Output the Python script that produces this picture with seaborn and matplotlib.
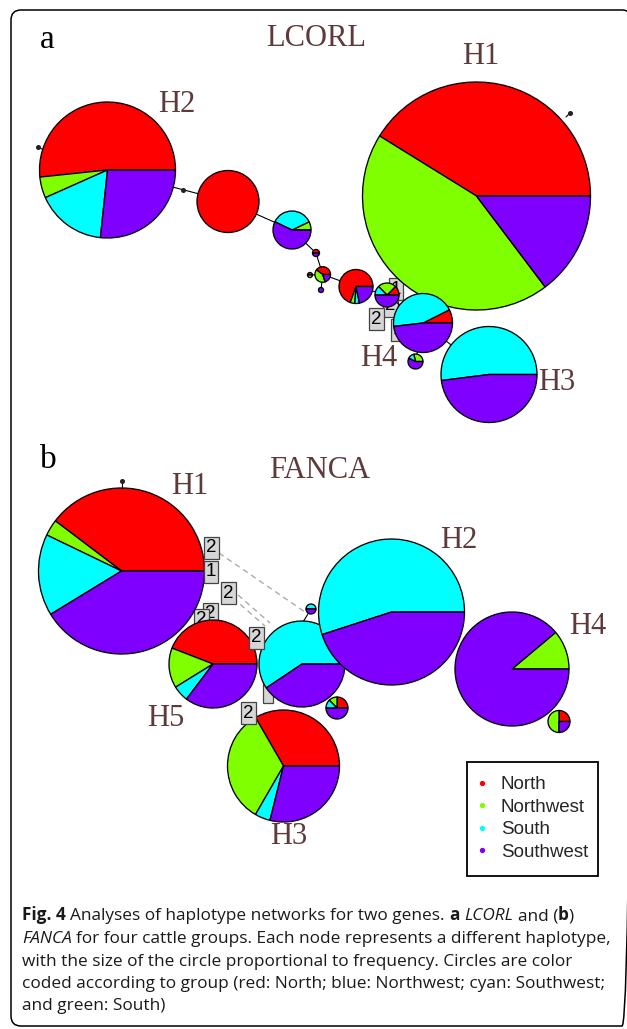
import numpy as np
import pandas as pd
import seaborn as sns
import matplotlib.pyplot as plt
from matplotlib.lines import Line2D
from matplotlib.patches import FancyBboxPatch, Rectangle

sns.set_theme(style="white")
plt.rcParams['font.family'] = ['Liberation Sans', 'DejaVu Sans']

# ---------- Data --------------------------------------------------- #
groups       = ["North", "Northwest", "South", "Southwest"]
group_colors = ["#FF0000", "#80FF00", "#00FFFF", "#8000FF"]

# LCORL haplotype nodes (counts per group)
lcorl_nodes     = ["H1", "H2", "n3", "n4", "n5", "n6", "n7", "n8", "n9", "n10", "n11", "H4", "H3"]
lcorl_north     = [28, 31, 12, 0, 1, 2, 1, 0, 16, 1, 2, 0, 0]
lcorl_northwest = [30, 3, 0, 1, 0, 2, 1, 0, 1, 2, 0, 2, 0]
lcorl_south     = [0, 10, 0, 5, 0, 0, 0, 0, 1, 1, 12, 1, 13]
lcorl_southwest = [10, 16, 0, 8, 1, 1, 0, 1, 5, 4, 13, 4, 12]

# FANCA haplotype nodes
fanca_nodes     = ["H1", "H5", "m3", "H2", "H4", "H3", "m7", "m8", "m9"]
fanca_north     = [25, 15, 0, 0, 0, 15, 2, 1, 0]
fanca_northwest = [2, 5, 0, 0, 3, 15, 1, 2, 0]
fanca_south     = [10, 2, 19, 22, 0, 2, 1, 0, 1]
fanca_southwest = [26, 12, 13, 18, 24, 13, 4, 1, 1]

# mutation-step labels
lcorl_steps = ["2", "1", "2", "1"]
fanca_steps = ["2", "1", "2", "2", "2", "2", "", "2"]

caption_lines = [
    [("Fig. 4", "bold", "normal", False),
     ("Analyses of haplotype networks for two genes.", "normal", "normal", True),
     ("a", "bold", "normal", True), ("LCORL", "normal", "italic", True),
     ("and (", "normal", "normal", True), ("b", "bold", "normal", False),
     (")", "normal", "normal", False)],
    [("FANCA", "normal", "italic", False),
     ("for four cattle groups. Each node represents a different haplotype,", "normal", "normal", True)],
    [("with the size of the circle proportional to frequency. Circles are color", "normal", "normal", False)],
    [("coded according to group (red: North; blue: Northwest; cyan: Southwest;", "normal", "normal", False)],
    [("and green: South)", "normal", "normal", False)],
]

# ---------- Layout (pixels) --------------------------------------- #
lcorl_x = [476.5, 107.5, 228, 292, 316, 322.7, 310, 321, 356, 387, 423, 415.5, 489]
lcorl_y = [196, 170, 201.5, 230, 253, 274.5, 275, 290, 286.5, 295, 323, 361.5, 374.5]
lcorl_r = [114, 68, 31, 19, 3.5, 7.8, 2.5, 2.5, 17, 12, 29.5, 7.5, 48]
lcorl_edges = [(1, 2), (2, 3), (3, 4), (4, 5), (5, 6), (5, 7), (5, 8), (8, 9), (9, 10), (10, 12), (10, 11)]

fanca_x = [121.5, 213, 302, 391.5, 512, 283.5, 337, 559, 311]
fanca_y = [571, 664, 664, 612, 669, 766, 708, 721.5, 609]
fanca_r = [83, 44, 43, 73, 57, 56, 11, 11, 5]

# singleton dots hanging off big nodes: (x, y, x_end, y_end)
tiny_dots = [(570, 113, 566, 117), (38, 147, 42, 149), (122, 481, 122, 488), (183, 190, 183, 190)]

lcorl_step_xy = [(376, 319, 6), (396, 289, 1), (390, 306, 1), (398, 330, 1)]
fanca_step_xy = [(211, 548, 6), (211, 572, 6), (228, 593, 6), (210, 614, 1),
                 (201, 620, 1), (256, 638, 6), (268, 692, 1), (248, 713, 6)]

lcorl_labels = [("a", 47, 40, "black", 24), ("LCORL", 316, 39, "#5e3a3a", 22),
                ("H1", 481, 57, "#5e3a3a", 22), ("H2", 177, 105, "#5e3a3a", 22),
                ("H3", 557, 382, "#5e3a3a", 22), ("H4", 379, 359, "#5e3a3a", 22)]
fanca_labels = [("b", 48, 460, "black", 24), ("FANCA", 320, 470, "#5e3a3a", 22),
                ("H1", 190, 486, "#5e3a3a", 22), ("H2", 459, 540, "#5e3a3a", 22),
                ("H4", 588, 627, "#5e3a3a", 22), ("H5", 166, 718, "#5e3a3a", 22),
                ("H3", 289, 837, "#5e3a3a", 22)]

W, H = 627, 1029
fig = plt.figure(figsize=(W / 100, H / 100), dpi=100)
ax = fig.add_axes([0, 0, 1, 1])


def draw_pie(counts, cx, cy, r):
    vals = [c for c in counts if c > 0]
    cols = [col for c, col in zip(counts, group_colors) if c > 0]
    ax.pie(vals, colors=cols, center=(cx, cy), radius=r, startangle=0,
           counterclock=False, frame=True,
           wedgeprops=dict(edgecolor="black", linewidth=0.95, zorder=3))


def step_box(s, x, y, z):
    ax.text(x, y, s if s else " ", ha="center", va="center", fontsize=13.5, color="black", zorder=z,
            bbox=dict(boxstyle="square,pad=0.12", fc="#d6d6d6", ec="#444444", lw=0.9))


# ---------- Panel a: LCORL ---------------------------------------- #
for i, j in lcorl_edges:
    ax.plot([lcorl_x[i], lcorl_x[j]], [lcorl_y[i], lcorl_y[j]], color="black", lw=0.8, zorder=2)
lcorl_df = pd.DataFrame({"North": lcorl_north, "Northwest": lcorl_northwest,
                         "South": lcorl_south, "Southwest": lcorl_southwest}, index=lcorl_nodes)
for k, node in enumerate(lcorl_nodes):
    draw_pie(lcorl_df.loc[node, groups].tolist(), lcorl_x[k], lcorl_y[k], lcorl_r[k])

for s, (x, y, z) in zip(lcorl_steps, lcorl_step_xy):
    step_box(s, x, y, z)

# ---------- Panel b: FANCA ---------------------------------------- #
ax.plot([219, 305], [553, 612], color="#aaaaaa", lw=1.0, ls=(0, (4, 3)), zorder=2)
ax.plot([233, 265], [598, 626], color="#aaaaaa", lw=1.0, ls=(0, (4, 3)), zorder=2)
ax.plot([238, 270], [595, 623], color="#aaaaaa", lw=1.0, ls=(0, (4, 3)), zorder=2)
ax.plot([311, 303], [609, 622], color="black", lw=0.8, zorder=2)

fanca_df = pd.DataFrame({"North": fanca_north, "Northwest": fanca_northwest,
                         "South": fanca_south, "Southwest": fanca_southwest}, index=fanca_nodes)
for k, node in enumerate(fanca_nodes):
    draw_pie(fanca_df.loc[node, groups].tolist(), fanca_x[k], fanca_y[k], fanca_r[k])

for s, (x, y, z) in zip(fanca_steps, fanca_step_xy):
    step_box(s, x, y, z)

for x0, y0, x1, y1 in tiny_dots:
    ax.plot([x0, x1], [y0, y1], color="black", lw=0.8, zorder=4)
    ax.plot(x0, y0, marker="o", ms=2.6, color="#222222", zorder=5)

for s, x, y, c, fs in lcorl_labels + fanca_labels:
    ax.text(x, y, s, ha="center", va="center", fontsize=fs, color=c,
            family=["Liberation Serif", "DejaVu Serif"], zorder=7)

# legend: entries via matplotlib, frame drawn as a plain box
handles = [Line2D([], [], ls="", marker="o", markersize=2.8, markerfacecolor=c, markeredgecolor=c)
           for c in group_colors]
leg = ax.legend(handles, groups, loc="upper left", bbox_to_anchor=(476.4 / W, 1 - 776 / H),
                bbox_transform=fig.transFigure, frameon=False, fontsize=13.5,
                handlelength=0.6, handletextpad=0.71, labelspacing=0.29,
                borderpad=0, borderaxespad=0)
leg.set_zorder(8)
ax.add_patch(Rectangle((467, 762), 131, 114, fill=False, ec="black", lw=1.3, zorder=8))

# outer frame
ax.add_patch(FancyBboxPatch((11, 10), 621, 1016, boxstyle="round,pad=0,rounding_size=10",
                            fill=False, ec="black", lw=1.1, zorder=9))

ax.set_xlim(0, W)
ax.set_ylim(H, 0)
ax.set_aspect("auto")
ax.axis("off")

# ---------- Caption ------------------------------------------------ #
renderer = fig.canvas.get_renderer()


def text_width(s, size, weight="normal", style="normal"):
    t = ax.text(0, 0, s, fontsize=size, fontweight=weight, fontstyle=style, family="Open Sans")
    w = t.get_window_extent(renderer=renderer).width
    t.remove()
    return w


base = 11
cap_size = base * 590 / (text_width("for four cattle groups. Each node represents a different haplotype,", base)
                         + text_width("FANCA ", base, style="italic"))
space = text_width("x x", cap_size) - text_width("xx", cap_size)

for li, runs in enumerate(caption_lines):
    x = 22
    y = 920.5 + li * 22.5
    for txt, weight, style, gap in runs:
        if gap:
            x += space
        t = ax.text(x, y, txt, fontsize=cap_size, fontweight=weight, fontstyle=style,
                    family="Open Sans", color="#1a1a1a", ha="left", va="baseline")
        x += t.get_window_extent(renderer=renderer).width

fig.savefig("out.png", dpi=100)
